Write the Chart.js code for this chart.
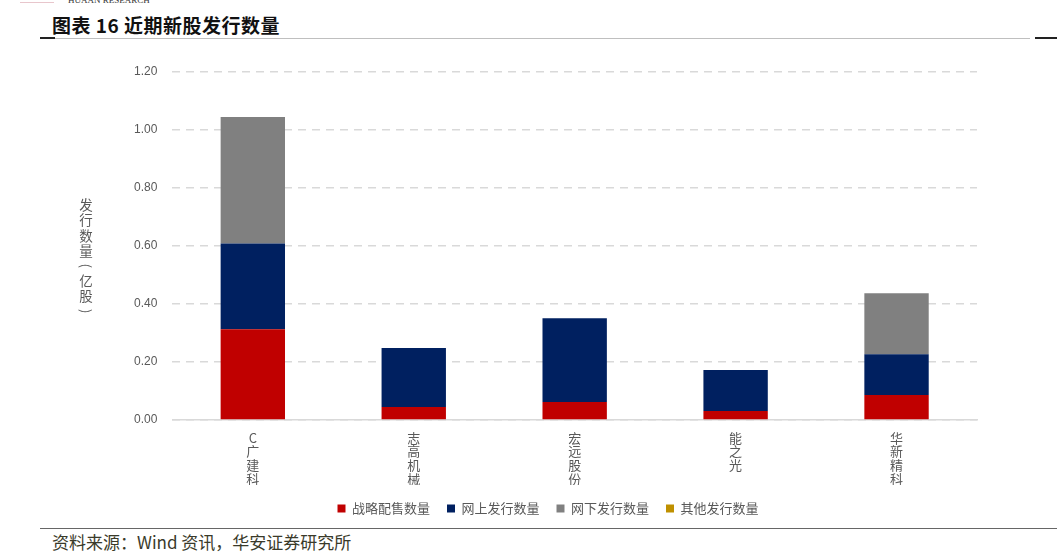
<!DOCTYPE html>
<html>
<head>
<meta charset="utf-8">
<script src="https://cdn.jsdelivr.net/npm/chart.js@4.4.0/dist/chart.umd.min.js"></script>
<style>
    html, body { margin: 0; padding: 0; background: #fff; }
    body { width: 1057px; height: 555px; position: relative; overflow: hidden; font-family: "Noto Sans CJK SC", sans-serif; }
    #wrap { position: absolute; left: 0; top: 0; width: 1057px; height: 525px; }
    .brand { position: absolute; left: 68px; top: -5px; font: 9px "Liberation Serif", serif; color: #333; }
    .brandline { position: absolute; left: 20px; top: 2px; width: 34px; height: 1px; background: #e8c6cc; }
    .title { position: absolute; left: 52px; top: 11px; font-size: 19px; font-weight: bold; color: #111; letter-spacing: 0.5px; }
    .rule { position: absolute; height: 1px; background: #bfbfbf; }
    .rule.dark { background: #222; height: 2px; }
    .source { position: absolute; left: 52px; top: 529px; font-size: 17px; color: #3a3a2a; }
</style>
</head>
<body>
<div class="brandline"></div>
<div class="brand">HUAAN RESEARCH</div>
<div class="title">图表 16 近期新股发行数量</div>
<div class="rule" style="left:40px; top:38px; width:990px;"></div>
<div class="rule dark" style="left:40px; top:37px; width:15px;"></div>
<div class="rule dark" style="left:1035px; top:37px; width:22px;"></div>
<div id="wrap"><canvas id="chart"></canvas></div>
<div class="rule" style="left:40px; top:528px; width:1017px; background:#666;"></div>
<div class="source">资料来源：Wind 资讯，华安证券研究所</div>
<script>
// categories: new listings, each name stacked one char per line
const companies = ['C广建科', '志高机械', '宏远股份', '能之光', '华新精科'];

// issue volumes, 100m shares (亿股)
const strategicPlacement = [0.313, 0.045, 0.062, 0.031, 0.086];
const onlineIssue = [0.296, 0.203, 0.289, 0.141, 0.141];
const offlineIssue = [0.436, 0, 0, 0, 0.210];
const otherIssue = [0, 0, 0, 0, 0];

const yTitle = ['发', '行', '数', '量', '(', '亿', '股', ')'];

const grey = '#595959';

// Draw the y axis title as a vertical column of characters.
const verticalTitle = {
    id: 'verticalTitle',
    afterDraw(chart) {
        const ctx = chart.ctx;
        ctx.save();
        ctx.fillStyle = grey;
        ctx.font = '13.5px "Noto Sans CJK SC"';
        ctx.textAlign = 'center';
        ctx.textBaseline = 'middle';
        let y = 205;
        for (const ch of yTitle) {
            if (ch === '(' || ch === ')') {
                // brackets are turned for vertical text
                ctx.save();
                ctx.translate(86, y);
                ctx.rotate(Math.PI / 2);
                ctx.fillText(ch, 0, 0);
                ctx.restore();
            } else {
                ctx.fillText(ch, 86, y);
            }
            y += 15.2;
        }
        ctx.restore();
    },
};

const datasets = [
    { label: '战略配售数量', data: strategicPlacement, backgroundColor: '#c00000' },
    { label: '网上发行数量', data: onlineIssue, backgroundColor: '#002060' },
    { label: '网下发行数量', data: offlineIssue, backgroundColor: '#808080' },
    { label: '其他发行数量', data: otherIssue, backgroundColor: '#bf9000' },
].map((d) => ({ ...d, barPercentage: 0.4, categoryPercentage: 1.0 }));

new Chart(document.getElementById('chart'), {
    type: 'bar',
    data: {
        labels: companies.map((c) => Array.from(c)),
        datasets,
    },
    options: {
        animation: false,
        responsive: true,
        maintainAspectRatio: false,
        layout: { padding: { left: 119, right: 80, top: 72, bottom: 0 } },
        plugins: {
            legend: {
                position: 'bottom',
                labels: {
                    boxWidth: 8,
                    boxHeight: 8,
                    color: grey,
                    padding: 17,
                    font: { size: 13, family: '"Noto Sans CJK SC"' },
                },
            },
            tooltip: { enabled: false },
        },
        scales: {
            x: {
                stacked: true,
                grid: { display: false },
                border: { display: true, color: '#d9d9d9', width: 1.5 },
                ticks: {
                    color: grey,
                    maxRotation: 0,
                    padding: 3,
                    font: { size: 13, family: '"Noto Sans CJK SC"', lineHeight: 1.05 },
                },
                afterFit: (scale) => { scale.height = 65; },
            },
            y: {
                stacked: true,
                min: 0,
                max: 1.2,
                grid: { color: '#d9d9d9', lineWidth: 1.5, drawTicks: false },
                border: { display: false, dash: [8, 6] },
                ticks: {
                    stepSize: 0.2,
                    color: grey,
                    padding: 15,
                    font: { size: 12, family: '"Liberation Sans"' },
                    callback: (v) => v.toFixed(2),
                },
            },
        },
    },
    plugins: [verticalTitle],
});
</script>
</body>
</html>
